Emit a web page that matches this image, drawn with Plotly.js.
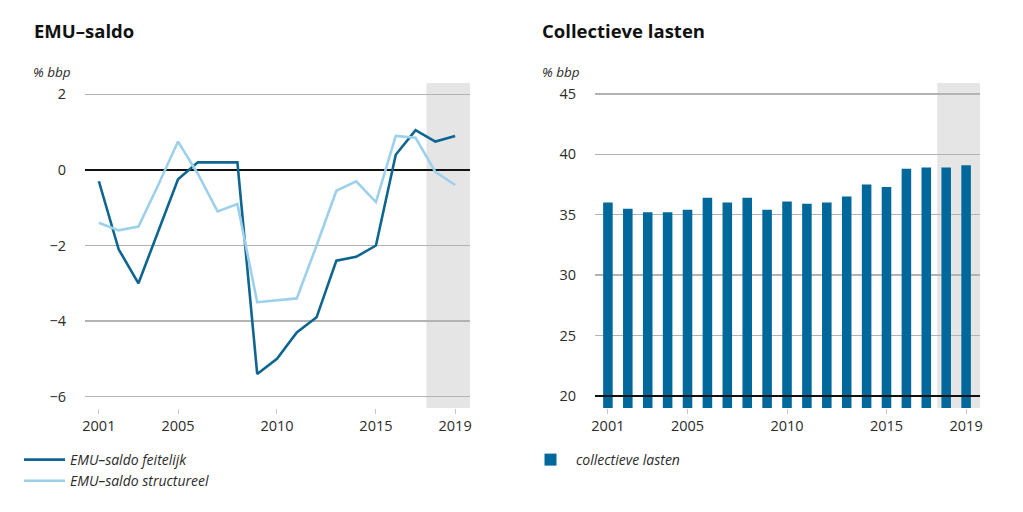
<!DOCTYPE html>
<html>
<head>
<meta charset="utf-8">
<script src="https://cdn.plot.ly/plotly-3.0.1.min.js"></script>
<style>html,body{margin:0;padding:0;background:#fff;}#chart{width:1023px;height:512px;}</style>
</head>
<body>
<div id="chart"></div>
<script>
// Data
const years = [2001,2002,2003,2004,2005,2006,2007,2008,2009,2010,2011,2012,2013,2014,2015,2016,2017,2018,2019];
const emuFeitelijk = [-0.3,-2.1,-3.0,-1.6,-0.25,0.2,0.2,0.2,-5.4,-5.0,-4.3,-3.9,-2.4,-2.3,-2.0,0.4,1.05,0.75,0.9];
const emuStructureel = [-1.4,-1.6,-1.5,-0.4,0.75,-0.1,-1.1,-0.9,-3.5,-3.45,-3.4,-2.0,-0.55,-0.3,-0.85,0.9,0.85,-0.05,-0.4];
const collectieveLasten = [36.0,35.5,35.2,35.2,35.4,36.4,36.0,36.4,35.4,36.1,35.9,36.0,36.5,37.5,37.3,38.8,38.9,38.9,39.1];
const xTickVals = [2001,2005,2010,2015,2019];
const xTickText = ['2001','2005','2010','2015','2019'];
const leftYTicks = [2,0,-2,-4,-6];
const rightYTicks = [45,40,35,30,25,20];
const forecastStart = 2017.55;

const FONT = '"Open Sans", "DejaVu Sans", sans-serif';
const dark = '#0d6590';
const light = '#9dd0ea';
const barColor = '#01689b';
const gridColor = '#b3b3b3';
const textColor = '#2b2b2b';

const traces = [
  {x: years, y: emuFeitelijk, type: 'scatter', mode: 'lines', name: 'EMU–saldo feitelijk',
   line: {color: dark, width: 2.6}, xaxis: 'x', yaxis: 'y', legend: 'legend', hoverinfo: 'skip'},
  {x: years, y: emuStructureel, type: 'scatter', mode: 'lines', name: 'EMU–saldo structureel',
   line: {color: light, width: 2.6}, xaxis: 'x', yaxis: 'y', legend: 'legend', hoverinfo: 'skip'},
  {x: years, y: collectieveLasten, type: 'bar', name: 'collectieve lasten', width: 0.48,
   marker: {color: barColor}, xaxis: 'x2', yaxis: 'y2', legend: 'legend2', hoverinfo: 'skip'}
];

const axisFont = {family: FONT, size: 14.5, color: textColor};
const xCommon = {
  tickvals: xTickVals, ticktext: xTickText, showgrid: false, zeroline: false, showline: false,
  ticks: 'outside', ticklen: 5, tickwidth: 1, tickcolor: '#c8c8c8', tickfont: axisFont, fixedrange: true
};
const yCommon = {
  showgrid: true, gridcolor: gridColor, gridwidth: 1.5, showline: false, ticks: '',
  tickfont: axisFont, ticklabelstandoff: 18, fixedrange: true
};

const layout = {
  width: 1023, height: 512,
  margin: {l: 0, r: 0, t: 0, b: 0},
  paper_bgcolor: '#fff', plot_bgcolor: 'rgba(0,0,0,0)',
  font: {family: FONT, color: textColor},
  xaxis: Object.assign({}, xCommon, {domain: [0.0831, 0.4594], range: [2000.3, 2019.75], anchor: 'y'}),
  yaxis: Object.assign({}, yCommon, {domain: [0.2031, 0.8379], range: [-6.3, 2.3], tickvals: leftYTicks,
    zeroline: true, zerolinecolor: '#111', zerolinewidth: 2, anchor: 'x'}),
  xaxis2: Object.assign({}, xCommon, {domain: [0.5816, 0.958], range: [2000.35, 2019.7], anchor: 'y2'}),
  yaxis2: Object.assign({}, yCommon, {domain: [0.2031, 0.8379], range: [19, 45.9], tickvals: rightYTicks,
    zeroline: false, anchor: 'x2'}),
  shapes: [
    {type: 'rect', xref: 'x', yref: 'y domain', x0: forecastStart, x1: 2019.75, y0: 0, y1: 1,
     fillcolor: '#e5e5e5', line: {width: 0}, layer: 'below'},
    {type: 'rect', xref: 'x2', yref: 'y2 domain', x0: forecastStart, x1: 2019.7, y0: 0, y1: 1,
     fillcolor: '#e5e5e5', line: {width: 0}, layer: 'below'},
    {type: 'line', xref: 'x2 domain', yref: 'y2', x0: 0, x1: 1, y0: 20, y1: 20,
     line: {color: '#111', width: 2}, layer: 'above'}
  ],
  annotations: [
    {text: '<b>EMU–saldo</b>', xref: 'paper', yref: 'paper', x: 32/1023, y: 1 - 30/512,
     xanchor: 'left', yanchor: 'middle', showarrow: false, font: {family: FONT, size: 18.5, color: '#111'}},
    {text: '<b>Collectieve lasten</b>', xref: 'paper', yref: 'paper', x: 540/1023, y: 1 - 30/512,
     xanchor: 'left', yanchor: 'middle', showarrow: false, font: {family: FONT, size: 18.5, color: '#111'}},
    {text: '<i>% bbp</i>', xref: 'paper', yref: 'paper', x: 31/1023, y: 1 - 72/512,
     xanchor: 'left', yanchor: 'middle', showarrow: false, font: {family: FONT, size: 13.5, color: textColor}},
    {text: '<i>% bbp</i>', xref: 'paper', yref: 'paper', x: 540/1023, y: 1 - 72/512,
     xanchor: 'left', yanchor: 'middle', showarrow: false, font: {family: FONT, size: 13.5, color: textColor}}
  ],
  legend: {x: 19/1023, y: 1 - 444/512, xanchor: 'left', yanchor: 'top', orientation: 'v',
    bgcolor: 'rgba(0,0,0,0)', font: {family: FONT, size: 14, color: textColor, style: 'italic'},
    itemwidth: 41, tracegroupgap: 0},
  legend2: {x: 525/1023, y: 1 - 444/512, xanchor: 'left', yanchor: 'top', orientation: 'v',
    bgcolor: 'rgba(0,0,0,0)', font: {family: FONT, size: 14, color: textColor, style: 'italic'},
    itemwidth: 41},
  showlegend: true
};

Plotly.newPlot('chart', traces, layout, {displayModeBar: false, staticPlot: true});
</script>
</body>
</html>
